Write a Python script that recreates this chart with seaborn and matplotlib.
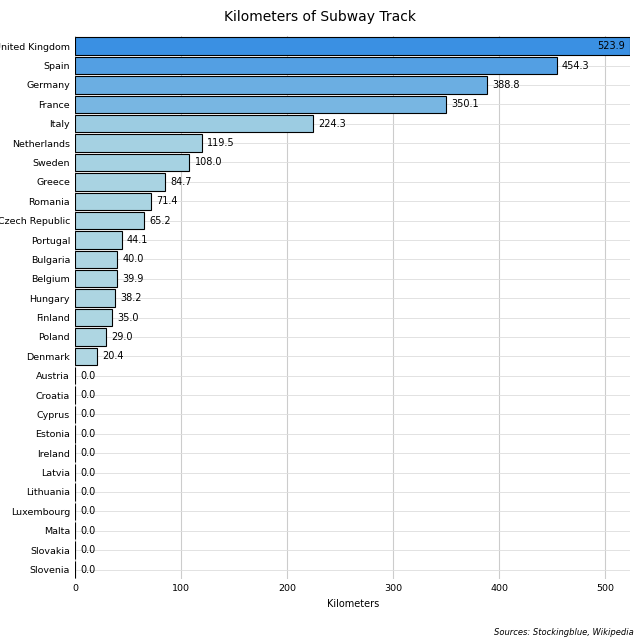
import matplotlib
matplotlib.use("Agg")
import matplotlib.pyplot as plt
import seaborn as sns
import numpy as np
import pandas as pd
from matplotlib.colors import LinearSegmentedColormap

countries = ["United Kingdom","Spain","Germany","France","Italy","Netherlands","Sweden","Greece",
             "Romania","Czech Republic","Portugal","Bulgaria","Belgium","Hungary","Finland","Poland",
             "Denmark","Austria","Croatia","Cyprus","Estonia","Ireland","Latvia","Lithuania",
             "Luxembourg","Malta","Slovakia","Slovenia"]
values = [523.9,454.3,388.8,350.1,224.3,119.5,108.0,84.7,71.4,65.2,44.1,40.0,39.9,38.2,35.0,29.0,
          20.4,0,0,0,0,0,0,0,0,0,0,0]

df = pd.DataFrame({"country": countries, "km": values})
cmap = LinearSegmentedColormap.from_list("c", ["#a8dcea", "#8ccfee", "#1e90ff"])
vmax = max(values)
colors = [cmap(v / vmax) for v in values]

fig = plt.figure(figsize=(6.4, 6.4), dpi=100)
ax = fig.add_axes([0.117, 0.095, 0.868, 0.848])
sns.barplot(data=df, y="country", x="km", hue="country", palette=colors, legend=False,
            edgecolor="black", linewidth=0.8, width=0.9, ax=ax, zorder=3)
ax.set_xlim(0, vmax)
ax.set_ylim(len(values) - 0.5, -0.5)
ax.grid(axis="x", color="#cccccc", linewidth=0.8, zorder=0)
ax.grid(axis="y", color="#dddddd", linewidth=0.6, zorder=0)
ax.set_axisbelow(True)
for s in ax.spines.values():
    s.set_visible(False)
ax.tick_params(length=0, labelsize=6.8)
ax.set_ylabel("")
ax.set_xlabel("Kilometers", fontsize=7)
for i, v in enumerate(values):
    if i == 0:
        ax.text(v - 5, i, f"{v:.1f}", va="center", ha="right", fontsize=7)
    else:
        ax.text(v + 5, i, f"{v:.1f}", va="center", ha="left", fontsize=7)
fig.suptitle("Kilometers of Subway Track", y=0.985, fontsize=10)
fig.text(0.99, 0.008, "Sources: Stockingblue, Wikipedia", ha="right", fontsize=6, style="italic")
fig.savefig("out.png", dpi=100)
